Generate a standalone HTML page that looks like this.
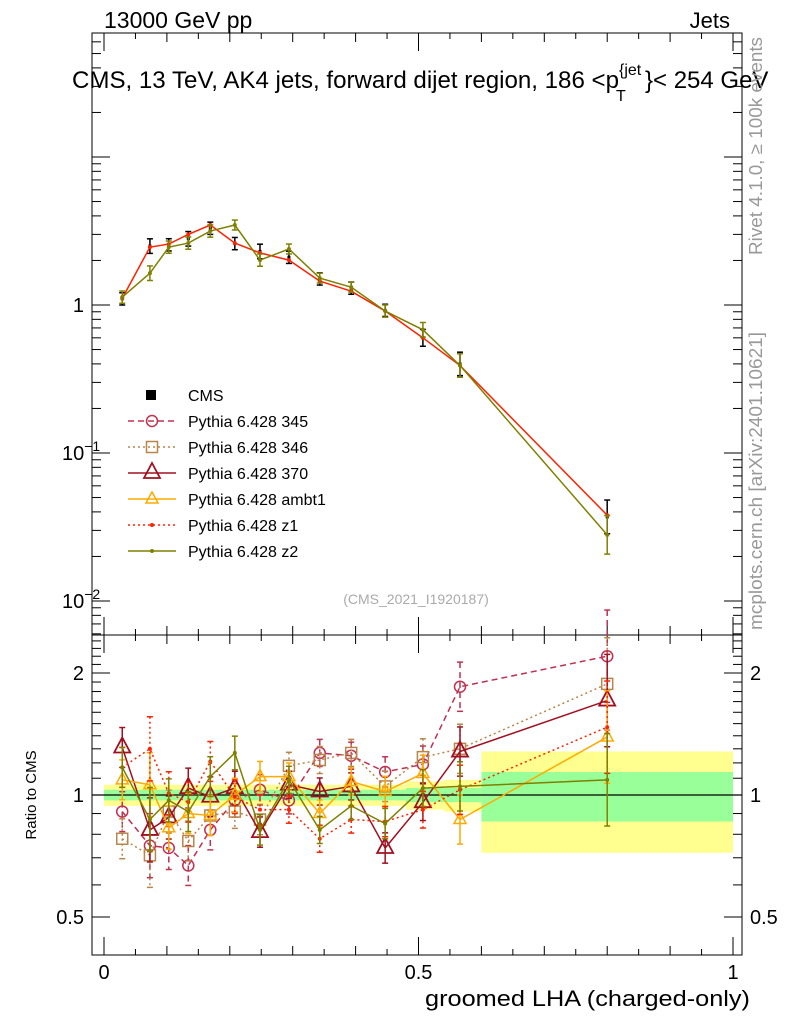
<!DOCTYPE html>
<html><head><meta charset="utf-8"><style>
body{margin:0;background:#fff;}
svg{display:block;font-family:"Liberation Sans",Arial,sans-serif;}
</style></head><body>
<svg id="c" width="786" height="1024" viewBox="0 0 786 1024">
<text x="104" y="28" font-size="23">13000 GeV pp</text>
<text x="730" y="28" font-size="22" text-anchor="end">Jets</text>
<g>
<text x="72" y="88" font-size="24" textLength="547" lengthAdjust="spacingAndGlyphs">CMS, 13 TeV, AK4 jets, forward dijet region, 186 &lt;p</text>
<text x="616" y="101" font-size="16">T</text>
<text x="619" y="75" font-size="16">{jet</text>
<text x="645" y="88" font-size="24">}&lt; 254 GeV</text>
</g>
<text transform="translate(762,255) rotate(-90)" font-size="18" fill="#999" textLength="218" lengthAdjust="spacingAndGlyphs">Rivet 4.1.0, ≥ 100k events</text>
<text transform="translate(762,630) rotate(-90)" font-size="18" fill="#999" textLength="298" lengthAdjust="spacingAndGlyphs">mcplots.cern.ch [arXiv:2401.10621]</text>
<text x="416" y="604" font-size="14" fill="#aaa" text-anchor="middle">(CMS_2021_I1920187)</text>
<text transform="translate(36,795) rotate(-90)" font-size="15" text-anchor="middle">Ratio to CMS</text>
<text x="425" y="1006" font-size="22" textLength="325" lengthAdjust="spacingAndGlyphs">groomed LHA (charged-only)</text>
<g id="g"></g>
</svg>
<script>
const xs=[0.029,0.073,0.103,0.134,0.169,0.208,0.248,0.294,0.343,0.393,0.447,0.507,0.566,0.8];
const dataVals=[1.1,2.5,2.55,2.8,3.3,2.6,2.3,2.1,1.5,1.3,0.92,0.60,0.40,0.037];
const dataErr=[0.1,0.12,0.1,0.12,0.1,0.1,0.12,0.1,0.1,0.1,0.1,0.14,0.2,0.3];
const z1Main=[1.11,2.46,2.58,3.0,3.47,2.62,2.25,2.01,1.45,1.24,0.91,0.60,0.39,0.038];
const z2Main=[1.13,1.64,2.46,2.62,3.16,3.47,2.01,2.39,1.52,1.32,0.91,0.68,0.39,0.028];
const z2Err=[0.1,0.12,0.1,0.1,0.1,0.08,0.1,0.08,0.08,0.08,0.1,0.12,0.2,0.35];
const r345=[0.91,0.75,0.74,0.67,0.82,0.97,1.03,0.97,1.27,1.25,1.14,1.19,1.85,2.2];
const r346=[0.78,0.71,0.91,0.77,0.89,0.91,0.87,1.18,1.22,1.27,1.05,1.24,1.30,1.88];
const r370=[1.31,0.82,0.88,1.04,0.99,1.04,0.81,1.06,1.02,1.05,0.74,0.96,1.28,1.71];
const rAmbt1=[1.09,1.06,0.83,0.90,0.89,1.0,1.11,1.11,0.90,1.08,1.02,1.13,0.87,1.39];
const rZ1=[1.17,1.30,1.01,0.96,1.21,0.99,0.92,0.92,0.78,0.87,0.86,0.92,1.03,1.47];
const rZ2=[1.17,0.87,0.97,0.91,1.11,1.27,0.82,1.09,0.82,0.94,0.85,1.04,1.05,1.09];
const ratioErr=[0.12,0.2,0.13,0.12,0.12,0.1,0.09,0.08,0.08,0.08,0.09,0.11,0.15,0.3];
const binEdges=[0,0.05,0.09,0.12,0.15,0.19,0.23,0.27,0.32,0.37,0.42,0.48,0.54,0.6,1.0];
const bandIn=[0.03,0.03,0.03,0.03,0.03,0.03,0.03,0.03,0.03,0.03,0.03,0.04,0.04,0.14];
const bandOut=[0.06,0.06,0.06,0.06,0.06,0.06,0.06,0.06,0.06,0.06,0.06,0.08,0.09,0.28];
const NS='http://www.w3.org/2000/svg';
const g=document.getElementById('g');
function el(t,a,p){const e=document.createElementNS(NS,t);for(const k in a)e.setAttribute(k,a[k]);(p||g).appendChild(e);return e;}
const X=v=>104+629*v;
const YM=v=>305-148*Math.log10(v);
const YR=v=>795-122*Math.log2(v);
const L=92,R=742,T=33,M=635,B=955;
binEdges.slice(0,-1).forEach((e0,i)=>{const e1=binEdges[i+1];
 let r=el('rect',{x:X(e0),y:YR(1+bandOut[i]),width:X(e1)-X(e0),height:YR(1-bandOut[i])-YR(1+bandOut[i]),fill:'#ffff90'});
 
 
 r=el('rect',{x:X(e0),y:YR(1+bandIn[i]),width:X(e1)-X(e0),height:YR(1-bandIn[i])-YR(1+bandIn[i]),fill:'#99ff99'});
 
 
});
el('line',{x1:L,x2:R,y1:YR(1),y2:YR(1),stroke:'#000','stroke-width':1.2});
el('rect',{x:L,y:T,width:R-L,height:M-T,fill:'none',stroke:'#000','stroke-width':1});
el('rect',{x:L,y:M,width:R-L,height:B-M,fill:'none',stroke:'#000','stroke-width':1});
for(let d=-3;d<=1;d++)for(let m=1;m<10;m++){const v=m*Math.pow(10,d);const y=YM(v);if(y<T||y>M)continue;const len=m==1?18:9;
 el('line',{x1:L,x2:L+len,y1:y,y2:y,stroke:'#000'});el('line',{x1:R,x2:R-len,y1:y,y2:y,stroke:'#000'});}
[[1,'1',null],[0.1,'10','−1'],[0.01,'10','−2']].forEach(([v,b,s])=>{const t=el('text',{x:s?62:84,y:YM(v)+7,'font-size':20,'text-anchor':s?'start':'end'});t.textContent=b;
 if(s){const ts=el('tspan',{'font-size':14,dy:-9},t);ts.textContent=s;}
 
 });
for(let v=0.4;v<=2.5;v+=0.1){const y=YR(v);if(y<M||y>B)continue;const maj=[0.5,1,2].some(q=>Math.abs(q-v)<1e-6);const len=maj?18:9;
 el('line',{x1:L,x2:L+len,y1:y,y2:y,stroke:'#000'});el('line',{x1:R,x2:R-len,y1:y,y2:y,stroke:'#000'});}
[[2,'2'],[1,'1'],[0.5,'0.5']].forEach(([v,s])=>{[[84,'end'],[750,'start']].forEach(([x,a])=>{const t=el('text',{x:x,y:YR(v)+7,'font-size':20,'text-anchor':a});t.textContent=s;
 
 });});
for(let i=0;i<=20;i++){const v=i*0.05;const x=X(v);const len=i%10==0?18:(i%2==0?9:6);
 [[B,-1],[M,-1],[M,1],[T,1]].forEach(([y,s])=>el('line',{x1:x,x2:x,y1:y,y2:y+s*len,stroke:'#000'}));}
[[0,'0'],[0.5,'0.5'],[1,'1']].forEach(([v,s])=>{const t=el('text',{x:X(v),y:979,'font-size':20,'text-anchor':'middle'});t.textContent=s;
 
 });
function marker(type,x,y,col){
 if(type=='circle')el('circle',{cx:x,cy:y,r:5.5,fill:'none',stroke:col,'stroke-width':1.5});
 else if(type=='square')el('rect',{x:x-5.5,y:y-5.5,width:11,height:11,fill:'none',stroke:col,'stroke-width':1.5});
 else if(type=='tri')el('path',{d:`M${x},${y-10}L${x+8},${y+5}L${x-8},${y+5}Z`,fill:'none',stroke:col,'stroke-width':1.8});
 else if(type=='tris')el('path',{d:`M${x},${y-7}L${x+6},${y+4}L${x-6},${y+4}Z`,fill:'none',stroke:col,'stroke-width':1.5});
 else if(type=='dot')el('circle',{cx:x,cy:y,r:2,fill:col});
}
function series(vals,Y,col,dash,mk,name,errs){
 const p=el('polyline',{points:vals.map((v,i)=>X(xs[i])+','+Y(v)).join(' '),fill:'none',stroke:col,'stroke-width':1.5,'stroke-dasharray':dash});
 
 
 vals.forEach((v,i)=>{const x=X(xs[i]);if(errs){const e=errs[i];const y1=Y(v*(1+e)),y2=Y(v/(1+e));
  el('line',{x1:x,x2:x,y1:y1,y2:y2,stroke:col,'stroke-width':1.5,'stroke-dasharray':dash});
  el('line',{x1:x-3,x2:x+3,y1:y1,y2:y1,stroke:col,'stroke-width':1.5});el('line',{x1:x-3,x2:x+3,y1:y2,y2:y2,stroke:col,'stroke-width':1.5});}
  marker(mk,x,Y(v),col);});
}
dataVals.forEach((v,i)=>{const x=X(xs[i]),e=dataErr[i];const y1=YM(v*(1+e)),y2=YM(v/(1+e));
 const l=el('line',{x1:x,x2:x,y1:y1,y2:y2,stroke:'#000','stroke-width':1.5});
 
 
 el('line',{x1:x-3,x2:x+3,y1:y1,y2:y1,stroke:'#000','stroke-width':1.5});el('line',{x1:x-3,x2:x+3,y1:y2,y2:y2,stroke:'#000','stroke-width':1.5});
 el('rect',{x:x-1.5,y:YM(v)-1.5,width:3,height:3,fill:'#000'});});
series(z1Main,YM,'#ff2200','','dot','z1-main-line',null);
series(z2Main,YM,'#808000','','dot','z2-main-line',z2Err);
series(r345,YR,'#c03050','6,4','circle','ratio-345-line',ratioErr);
series(r346,YR,'#b8864b','2,3','square','ratio-346-line',ratioErr);
series(r370,YR,'#a01020','','tri','ratio-370-line',ratioErr);
series(rAmbt1,YR,'#ffaa00','','tris','ratio-ambt1-line',ratioErr);
series(rZ1,YR,'#ff2200','2,3','dot','ratio-z1-line',ratioErr);
series(rZ2,YR,'#808000','','dot','ratio-z2-line',ratioErr);
const leg=[['CMS','#000','','sq'],['Pythia 6.428 345','#c03050','6,4','circle'],['Pythia 6.428 346','#b8864b','2,3','square'],['Pythia 6.428 370','#a01020','','tri'],['Pythia 6.428 ambt1','#ffaa00','','tris'],['Pythia 6.428 z1','#ff2200','2,3','dot'],['Pythia 6.428 z2','#808000','','dot']];
leg.forEach(([n,c,d,m],i)=>{const y=395+26*i;
 if(m=='sq')el('rect',{x:146,y:y-5,width:10,height:10,fill:'#000'});
 else{el('line',{x1:128,x2:176,y1:y,y2:y,stroke:c,'stroke-width':1.5,'stroke-dasharray':d});marker(m,152,y,c);}
 const t=el('text',{x:188,y:y+6,'font-size':16});t.textContent=n;
 
 });
</script>
</body></html>
